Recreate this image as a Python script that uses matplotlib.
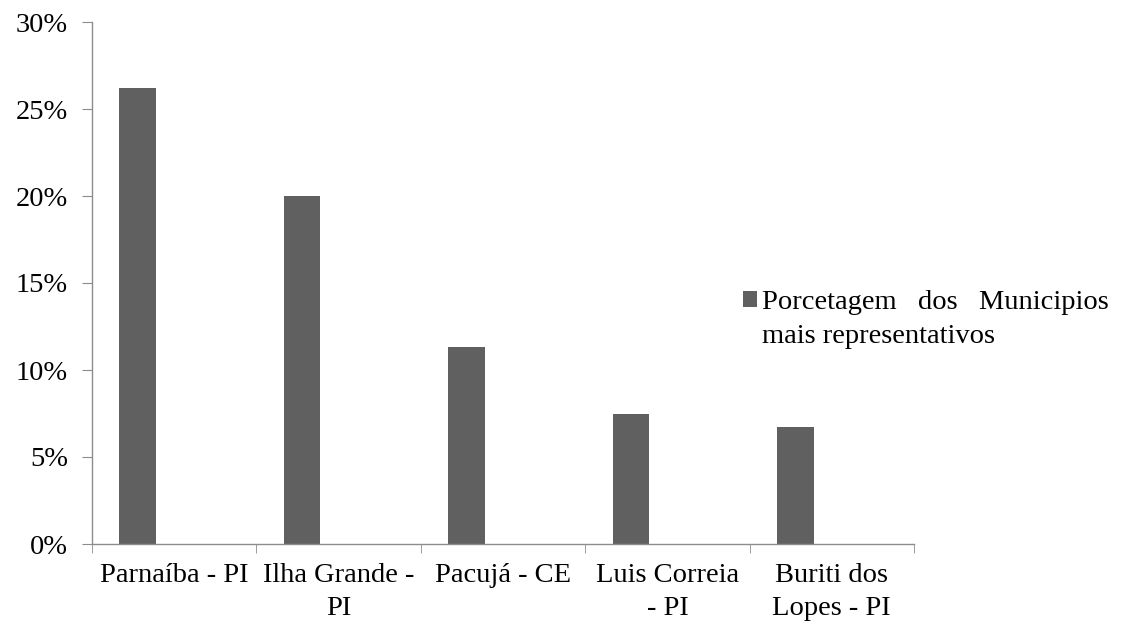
"""Bar chart: share of the most representative municipalities."""

import matplotlib

matplotlib.use("Agg")
import matplotlib.pyplot as plt
import numpy as np
from matplotlib.patches import Patch
from matplotlib.ticker import FixedLocator, PercentFormatter

plt.rcParams["font.family"] = ["Liberation Serif", "DejaVu Serif"]

CATEGORIES = ["Parnaíba - PI", "Ilha Grande -\nPI", "Pacujá - CE", "Luis Correia\n- PI", "Buriti dos\nLopes - PI"]
SHARE = [26.2, 20.0, 11.35, 7.45, 6.75]
YTICKS = [0, 5, 10, 15, 20, 25, 30]
LEGEND_LINE1 = "Porcetagem   dos   Municipios"
LEGEND_LINE2 = "mais representativos"

BAR_COLOR = "#606060"
AXIS_COLOR = "#8c8c8c"
FS = 20.5
W, H = 1126, 633

fig = plt.figure(figsize=(W / 100, H / 100), dpi=100)
ax = fig.add_axes([92 / W, 1 - 544 / H, (914 - 92) / W, (544 - 22) / H])

x = np.arange(len(CATEGORIES))
ax.bar(x - 0.222, SHARE, width=0.223, color=BAR_COLOR)

ax.set_xlim(-0.5, len(CATEGORIES) - 0.5)
ax.set_ylim(0, 30)
ax.set_yticks(YTICKS)
ax.yaxis.set_major_formatter(PercentFormatter(decimals=0))

ax.set_xticks(x)
ax.set_xticklabels(CATEGORIES, fontsize=FS, linespacing=1.4)
ax.tick_params(axis="x", which="major", length=0, pad=14)
ax.xaxis.set_minor_locator(FixedLocator(np.arange(-0.5, len(CATEGORIES), 1.0)))
ax.tick_params(axis="x", which="minor", length=6.5, color=AXIS_COLOR, direction="out")
ax.tick_params(axis="y", length=7.2, color=AXIS_COLOR, labelsize=FS, pad=10)

for side in ("top", "right"):
    ax.spines[side].set_visible(False)
for side in ("left", "bottom"):
    ax.spines[side].set_color(AXIS_COLOR)
    ax.spines[side].set_linewidth(1.0)

# legend: marker sits beside the first line, second line continues below
handle = Patch(facecolor=BAR_COLOR, edgecolor="none")
fig.legend(
    [handle],
    [LEGEND_LINE1],
    loc="upper left",
    bbox_to_anchor=(743 / W, 1 - 290 / H),
    frameon=False,
    fontsize=FS,
    handlelength=0.5,
    handleheight=0.5,
    handletextpad=0.18,
    borderpad=0,
    borderaxespad=0,
)
fig.text(762 / W, 1 - 343 / H, LEGEND_LINE2, fontsize=FS, ha="left", va="baseline")

fig.savefig("out.png", dpi=100)
plt.close(fig)
